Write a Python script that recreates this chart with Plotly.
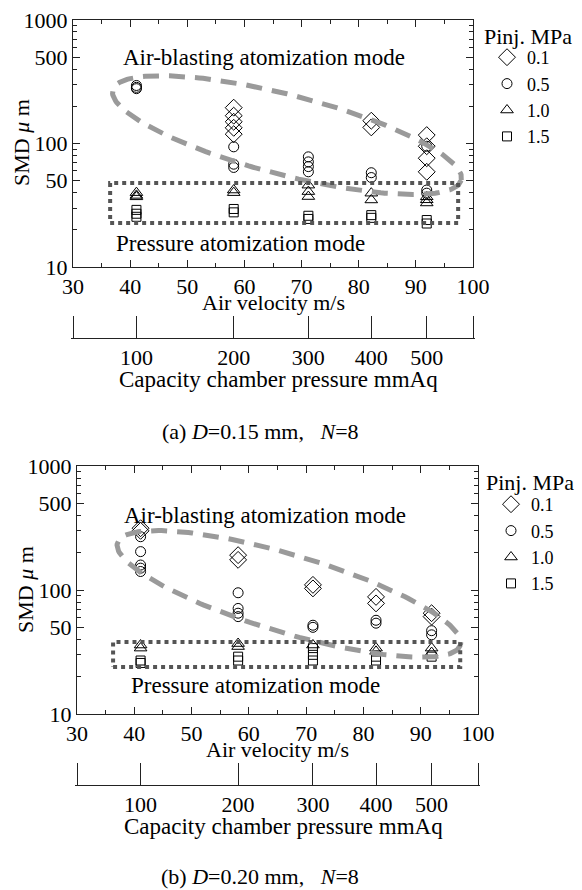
import numpy as np
import plotly.graph_objects as go

# ---------------- data ----------------
PRESSURES = [100, 200, 300, 400, 500]          # capacity chamber pressure, mmAq
PRESSURE_LABELS = ["100", "200", "300", "400", "500"]
K_VEL = 4.11                                     # air velocity m/s = K_VEL * sqrt(mmAq)

PINJ_LABELS = ["0.1", "0.5", "1.0", "1.5"]      # injection pressure, MPa
SYMBOLS = ["diamond-open", "circle-open", "triangle-up-open", "square-open"]
SIZES = [13, 10, 11, 9]

# SMD (um) per pressure point, (a) D=0.15 mm, N=8
A_P01 = [[], [195, 168, 150, 134, 119], [], [153, 135], [117, 95, 76, 59]]
A_P05 = [[295, 285, 278], [94, 68, 64], [78, 71, 65, 59], [58, 53], [95, 42, 39.6]]
A_P10 = [[40, 38, 37], [42, 40], [46, 40.8, 37.2], [39.6, 34.9], [37, 35, 33]]
A_P15 = [[29, 27, 25.5], [29.5, 27.7], [26, 24.5], [26.3, 25], [24, 22.5]]

# (b) D=0.20 mm, N=8
B_P01 = [[315, 300], [191, 175], [110, 103], [88, 78], [65, 61]]
B_P05 = [[269, 204, 159, 150, 141], [95, 71, 65, 61], [52, 50], [57, 54], [47, 43.5]]
B_P10 = [[36, 34], [37, 35], [36], [34, 32], [34, 31.3]]
B_P15 = [[27, 25.8], [29, 27], [34, 30, 27], [29, 27], [29]]

X_TICKS = [30, 40, 50, 60, 70, 80, 90, 100]
X_MINOR = [35, 45, 55, 65, 75, 85, 95]
Y_TICKS = [10, 50, 100, 500, 1000]
Y_MINOR = [20, 30, 40, 60, 70, 80, 90, 200, 300, 400, 600, 700, 800, 900]

# mode regions (guide overlays)
ELL_A = dict(center=(67.45, 117), axes_px=(180, 40), angle=14.5)
ELL_B = dict(center=(67.0, 93), axes_px=(179, 39), angle=16.6)
RECT_A = (36.5, 97.4, 22.7, 47.9)
RECT_B = (36.3, 96.9, 23.9, 38.1)

# ---------------- layout geometry ----------------
W, H = 582, 890
FONT = "Liberation Serif, Times New Roman, serif"
XR = [30, 100]
YR = [1, 3]
SEC_PAD = 2   # px overhang so the end ticks of the pressure scale are drawn


def px_x(p):
    return p / W


def px_y(p):
    return 1 - p / H


PANELS = [
    dict(xd=[73, 473], yd=[20, 267], sec=338, data=[A_P01, A_P05, A_P10, A_P15],
         ell=ELL_A, rect=RECT_A, legend="legend",
         txt_air=(264, 57), txt_pre=(240, 243), xt=(273, 303), st=(278, 379),
         cap=(260, 432, "(a) <i>D</i>=0.15 mm,\u00a0\u00a0\u00a0<i>N</i>=8"),
         ytitle=(22, 143), legtitle=(482, 36), leg=(487, 39)),
    dict(xd=[77, 478], yd=[466, 714], sec=785, data=[B_P01, B_P05, B_P10, B_P15],
         ell=ELL_B, rect=RECT_B, legend="legend2",
         txt_air=(265, 515), txt_pre=(255, 685), xt=(277, 749), st=(283, 826),
         cap=(260, 876, "(b) <i>D</i>=0.20 mm,\u00a0\u00a0\u00a0<i>N</i>=8"),
         ytitle=(25, 590), legtitle=(484, 482), leg=(491, 486)),
]

fig = go.Figure()
annotations = []
layout = dict(template="none", width=W, height=H, margin=dict(l=0, r=0, t=0, b=0),
              paper_bgcolor="white", plot_bgcolor="rgba(0,0,0,0)",
              font=dict(family=FONT, size=22, color="black"), showlegend=True)

sec_vals = [XR[0]] + [K_VEL * np.sqrt(p) for p in PRESSURES] + [XR[1]]
sec_text = [""] + PRESSURE_LABELS + [""]

for i, P in enumerate(PANELS):
    xa = "x" if i == 0 else "x2"
    ya = "y" if i == 0 else "y2"
    sa = "x3" if i == 0 else "x4"
    xdom = [px_x(P["xd"][0]), px_x(P["xd"][1])]
    ydom = [px_y(P["yd"][1]), px_y(P["yd"][0])]
    w_px = P["xd"][1] - P["xd"][0]
    h_px = P["yd"][1] - P["yd"][0]
    per_px = (XR[1] - XR[0]) / w_px

    # secondary axis carrier (drawn first so the main subplot sits above it)
    fig.add_trace(go.Scatter(x=[None], y=[None], xaxis=sa, yaxis=ya,
                             showlegend=False, hoverinfo="skip"))

    # data markers
    for k, series in enumerate(P["data"]):
        xs, ys = [], []
        for p, vals in zip(PRESSURES, series):
            for v in vals:
                xs.append(K_VEL * np.sqrt(p))
                ys.append(v)
        fig.add_trace(go.Scatter(
            x=xs, y=ys, mode="markers", name=PINJ_LABELS[k], xaxis=xa, yaxis=ya,
            legend=P["legend"],
            marker=dict(symbol=SYMBOLS[k], size=SIZES[k], color="black",
                        line=dict(color="black", width=1))))

    # dashed ellipse (air-blasting mode)
    e = P["ell"]
    t = np.linspace(0, 2 * np.pi, 240)
    th = np.deg2rad(e["angle"])
    a, b = e["axes_px"]
    dx = a * np.cos(t) * np.cos(th) - b * np.sin(t) * np.sin(th)
    dy = a * np.cos(t) * np.sin(th) + b * np.sin(t) * np.cos(th)
    ex = e["center"][0] + dx * per_px
    ey = 10 ** (np.log10(e["center"][1]) - dy * (YR[1] - YR[0]) / h_px)
    fig.add_trace(go.Scatter(x=ex, y=ey, mode="lines", xaxis=xa, yaxis=ya,
                             showlegend=False, hoverinfo="skip",
                             line=dict(color="#9a9a9a", width=5, dash="16px,10px")))

    # dotted rectangle (pressure mode)
    x0, x1, y0, y1 = P["rect"]
    fig.add_trace(go.Scatter(x=[x0, x1, x1, x0, x0], y=[y0, y0, y1, y1, y0],
                             mode="lines", xaxis=xa, yaxis=ya, showlegend=False,
                             hoverinfo="skip",
                             line=dict(color="#555555", width=4, dash="dot")))

    common = dict(ticks="inside", tickwidth=1, tickcolor="#222",
                  showline=True, linecolor="#222", linewidth=1,
                  showgrid=False, zeroline=False, automargin=False,
                  tickfont=dict(family=FONT, size=22, color="black"))
    axis_x = dict(domain=xdom, range=XR, anchor=ya, tickmode="array",
                  tickvals=X_TICKS, ticktext=[str(v) for v in X_TICKS],
                  ticklen=7, mirror="ticks",
                  minor=dict(tickmode="array", tickvals=X_MINOR,
                             ticks="inside", ticklen=4, tickcolor="#222"), **common)
    axis_y = dict(domain=ydom, type="log", range=YR, anchor=xa, tickmode="array",
                  tickvals=Y_TICKS, ticktext=[str(v) for v in Y_TICKS],
                  ticklen=7, mirror="ticks",
                  minor=dict(tickmode="array", tickvals=Y_MINOR,
                             ticks="inside", ticklen=4, tickcolor="#222"), **common)
    axis_s = dict(domain=[px_x(P["xd"][0] - SEC_PAD), px_x(P["xd"][1] + SEC_PAD)],
                  anchor="free", position=px_y(P["sec"]),
                  range=[XR[0] - SEC_PAD * per_px, XR[1] + SEC_PAD * per_px],
                  tickmode="array", tickvals=sec_vals, ticktext=sec_text,
                  ticklen=22, **common)
    layout["xaxis" if i == 0 else "xaxis2"] = axis_x
    layout["yaxis" if i == 0 else "yaxis2"] = axis_y
    layout["xaxis3" if i == 0 else "xaxis4"] = axis_s

    layout[P["legend"]] = dict(
        x=px_x(P["leg"][0]), y=px_y(P["leg"][1]), xanchor="left", yanchor="top",
        bgcolor="rgba(0,0,0,0)", borderwidth=0,
        font=dict(family=FONT, size=18, color="black"))

    def ann(pos, text, angle=0, size=22, anchor="center"):
        annotations.append(dict(x=px_x(pos[0]), y=px_y(pos[1]), xref="paper", yref="paper",
                                text=text, showarrow=False, xanchor=anchor,
                                yanchor="middle", textangle=angle,
                                font=dict(family=FONT, size=size, color="black")))

    ann(P["txt_air"], "Air-blasting atomization mode", size=23)
    ann(P["txt_pre"], "Pressure atomization mode", size=23)
    ann(P["xt"], "Air velocity m/s")
    ann(P["st"], "Capacity chamber pressure mmAq", size=23)
    ann(P["cap"][:2], P["cap"][2])
    ann(P["ytitle"], "SMD <i>μ</i> m", angle=-90)
    ann(P["legtitle"], "Pinj. MPa", anchor="left")

layout["annotations"] = annotations
fig.update_layout(**layout)
fig.write_html("out.html")
